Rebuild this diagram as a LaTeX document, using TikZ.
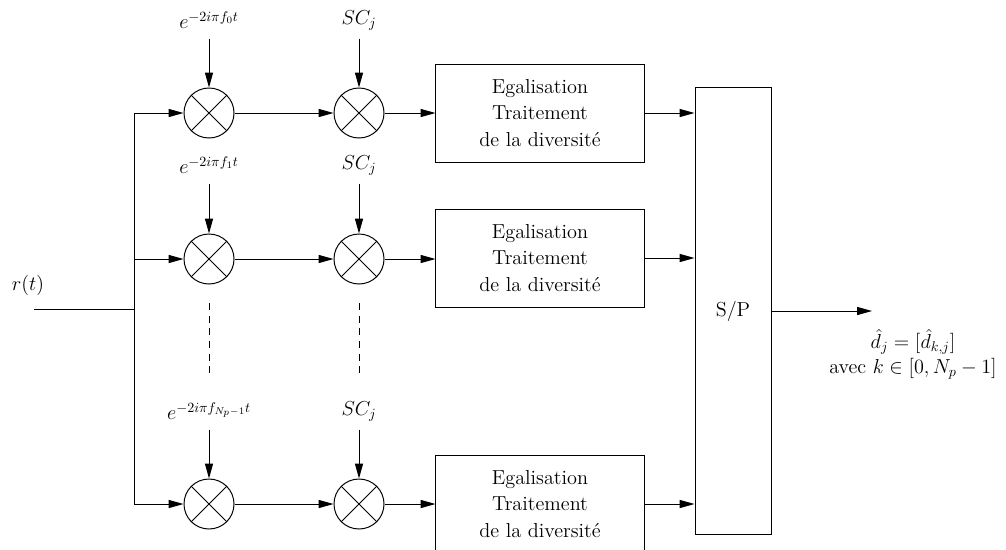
\documentclass[tikz,border=0pt]{standalone}
\usetikzlibrary{arrows.meta}
\begin{document}
\begin{tikzpicture}[x=0.025cm,y=-0.025cm,line width=0.7pt,
    every node/.style={font=\fontsize{14.4}{19}\selectfont},
    >={Triangle[length=3.7mm,width=2mm]},
    mix/.style={draw,circle,minimum size=1.25cm,inner sep=0pt},
    lab/.style={minimum height=0.9cm,inner sep=0pt},
    blk/.style={draw,rectangle,minimum width=5.2cm,minimum height=2.45cm,align=center}]
  \useasboundingbox (0,0) rectangle (1006,549);
  \draw
    (28,285) node (r){$r(t)$}
    (209,20) node[lab] (l1){$e^{-2i\pi f_0 t}$}
    (359,20) node[lab] (k1){$SC_j$}
    (209,165) node[lab] (l2){$e^{-2i\pi f_1 t}$}
    (359,165) node[lab] (k2){$SC_j$}
    (209,411) node[lab] (l3){$e^{-2i\pi f_{N_p-1} t}$}
    (359,411) node[lab] (k3){$SC_j$}
    (209,113) node[mix] (m1){}
    (359,113) node[mix] (n1){}
    (209,259) node[mix] (m2){}
    (359,259) node[mix] (n2){}
    (209,504) node[mix] (m3){}
    (359,504) node[mix] (n3){}
    (540,113) node[blk] (b1){Egalisation\\Traitement\\de la diversit\'e}
    (540,258) node[blk] (b2){Egalisation\\Traitement\\de la diversit\'e}
    (540,504) node[blk] (b3){Egalisation\\Traitement\\de la diversit\'e}
    (733,311) node[draw,rectangle,minimum width=1.9cm,minimum height=11.15cm] (sp){S/P}
    (913,342) node[inner sep=0pt] (d){$\hat{d}_j=[\hat{d}_{k,j}]$}
    (913,369) node[inner sep=0pt] (k){avec $k\in[0,N_p-1]$};
  \coordinate (in) at (34,309);
  \coordinate (j) at (134,309);
  \coordinate (t1) at (134,113);
  \coordinate (t2) at (134,259);
  \coordinate (t3) at (134,504);
  \coordinate (out) at (872,311);
  \coordinate (u1) at (209,303);
  \coordinate (u2) at (209,377);
  \coordinate (v1) at (359,303);
  \coordinate (v2) at (359,377);
  % crosses in the mixers
  \foreach \m in {m1,n1,m2,n2,m3,n3}{
    \draw (\m.north east) -- (\m.south west);
    \draw (\m.north west) -- (\m.south east);
  }
  \begin{scope}[->]
    \draw (t1) -- (m1);
    \draw (t2) -- (m2);
    \draw (t3) -- (m3);
    \draw (l1) -- (m1);
    \draw (k1) -- (n1);
    \draw (l2) -- (m2);
    \draw (k2) -- (n2);
    \draw (l3) -- (m3);
    \draw (k3) -- (n3);
    \draw (m1) -- (n1);
    \draw (m2) -- (n2);
    \draw (m3) -- (n3);
    \draw (n1) -- (b1.west |- n1);
    \draw (n2) -- (b2.west |- n2);
    \draw (n3) -- (b3.west |- n3);
    \draw (b1.east) -- (b1.east -| sp.west);
    \draw (b2.east) -- (b2.east -| sp.west);
    \draw (b3.east) -- (b3.east -| sp.west);
    \draw (sp.east |- out) -- (out);
  \end{scope}
  \draw (in) -- (j);
  \draw (t1) -- (t3);
  \draw[dash pattern=on 5pt off 4pt] (u1) -- (u2);
  \draw[dash pattern=on 5pt off 4pt] (v1) -- (v2);
\end{tikzpicture}
\end{document}
